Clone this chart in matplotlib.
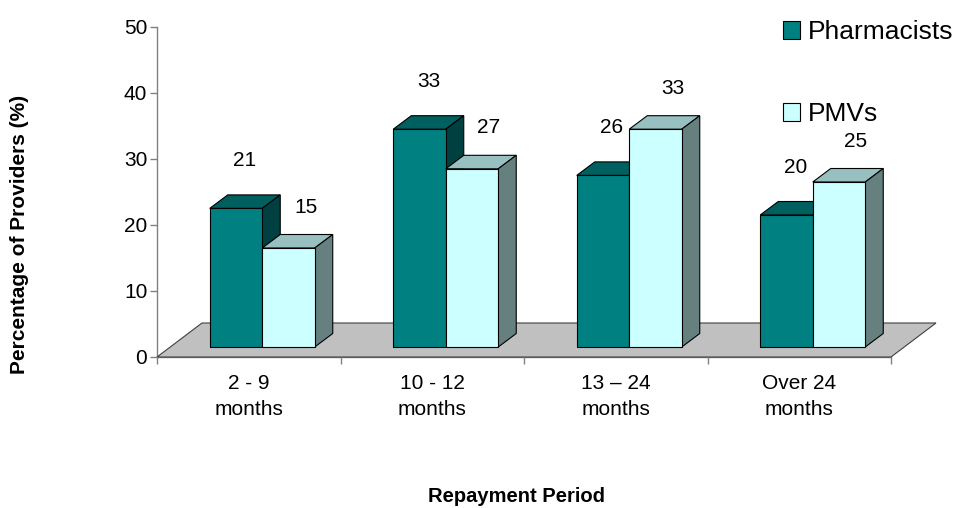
import matplotlib.pyplot as plt
from matplotlib.patches import Polygon, Patch

# Données du graphique
categories = ['2 - 9\nmonths', '10 - 12\nmonths', '13 – 24\nmonths', 'Over 24\nmonths']
pharmacists = [21, 33, 26, 20]
pmvs = [15, 27, 33, 25]
series_names = ['Pharmacists', 'PMVs']

plt.rcParams['font.family'] = ['Liberation Sans', 'DejaVu Sans']

# Couleurs (face avant, dessus, côté)
colors = [
    ('#008080', '#005f5f', '#004040'),
    ('#ccffff', '#99c0c0', '#668080'),
]

fig = plt.figure(figsize=(9.56, 5.08), dpi=100)
ax = fig.add_axes([157 / 956, 151 / 508, 734 / 956, 330 / 508])
ax.set_xlim(0, len(categories))
ax.set_ylim(0, 50)

# taille d'un pixel en unités de données
px_x = len(categories) / 734
px_y = 50 / 330

# Effet 3D : sol gris + barres en perspective
floor_dx, floor_dy = 45 * px_x, 34 * px_y
off_dx, off_dy = 13.5 * px_x, 10 * px_y      # barres au milieu du sol
depth_dx, depth_dy = 18 * px_x, 13.5 * px_y   # profondeur des barres
bar_w = 52.5 * px_x
label_dx = [9 * px_x, 17 * px_x]   # décalage des étiquettes par série
label_dy = [7.2, 6.2]

n = len(categories)
floor = Polygon([(0, 0), (n, 0), (n + floor_dx, floor_dy), (floor_dx, floor_dy)],
                closed=True, facecolor='#c0c0c0', edgecolor='#404040', lw=0.8,
                clip_on=False, zorder=1)
ax.add_patch(floor)

z = 2
for i in range(n):
    for j, values in enumerate([pharmacists, pmvs]):
        v = values[i]
        front, top_c, side_c = colors[j]
        x0 = i + 0.5 - bar_w + j * bar_w + off_dx
        y0 = off_dy
        y1 = y0 + v
        top = Polygon([(x0, y1), (x0 + bar_w, y1), (x0 + bar_w + depth_dx, y1 + depth_dy),
                       (x0 + depth_dx, y1 + depth_dy)], closed=True,
                      facecolor=top_c, edgecolor='black', lw=0.8, clip_on=False, zorder=z)
        side = Polygon([(x0 + bar_w, y0), (x0 + bar_w + depth_dx, y0 + depth_dy),
                        (x0 + bar_w + depth_dx, y1 + depth_dy), (x0 + bar_w, y1)], closed=True,
                       facecolor=side_c, edgecolor='black', lw=0.8, clip_on=False, zorder=z)
        face = Polygon([(x0, y0), (x0 + bar_w, y0), (x0 + bar_w, y1), (x0, y1)], closed=True,
                       facecolor=front, edgecolor='black', lw=0.8, clip_on=False, zorder=z)
        for p in (top, side, face):
            ax.add_patch(p)
        z += 1
        # étiquette de valeur
        ax.text(x0 + bar_w / 2 + label_dx[j], y1 + label_dy[j], str(v), ha='center',
                va='center', fontsize=15, zorder=20)

# Axes
for s in ['top', 'right']:
    ax.spines[s].set_visible(False)
for s in ['left', 'bottom']:
    ax.spines[s].set_color('#808080')
    ax.spines[s].set_linewidth(1.0)
    ax.spines[s].set_zorder(0.5)

ax.set_yticks(range(0, 51, 10))
ax.tick_params(axis='y', length=5, width=1, color='#808080', pad=2, labelsize=15)
ax.set_xticks(range(n + 1))
ax.set_xticklabels([])
ax.tick_params(axis='x', which='major', length=5, width=1, color='#808080')
ax.set_xticks([i + 0.5 for i in range(n)], minor=True)
ax.set_xticklabels(categories, minor=True, fontsize=15, linespacing=1.45)
ax.tick_params(axis='x', which='minor', length=0, pad=12.5)

fig.text(20 / 956, 1 - 234 / 508, 'Percentage of Providers (%)', rotation=90,
         ha='center', va='center', fontsize=15, fontweight='bold')
fig.text(517 / 956, 1 - 497 / 508, 'Repayment Period', ha='center', va='center',
         fontsize=14.5, fontweight='bold')

handles = [Patch(facecolor=colors[k][0], edgecolor='black', lw=0.8) for k in range(2)]
fig.legend(handles, series_names, loc='upper left', bbox_to_anchor=(783 / 956, 1 - 20 / 508),
           frameon=False, fontsize=19, handlelength=0.65, handleheight=0.65,
           handletextpad=0.3, labelspacing=2.2, borderpad=0, borderaxespad=0)

plt.savefig('out.png', dpi=100)
